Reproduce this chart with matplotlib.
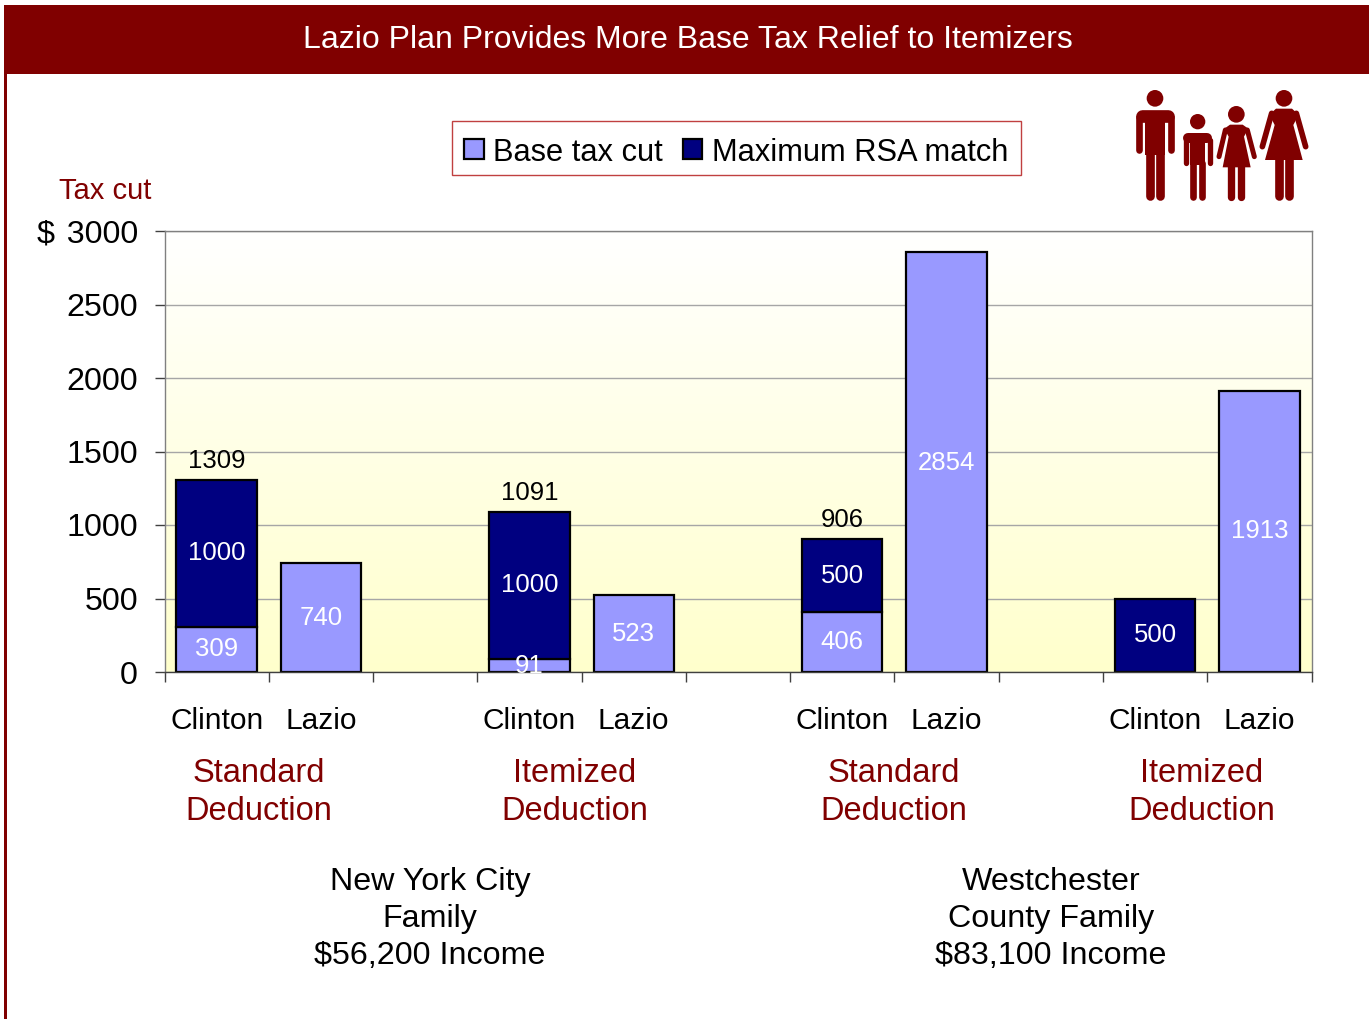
import matplotlib
matplotlib.use("Agg")
import matplotlib.pyplot as plt
import numpy as np
from matplotlib.colors import LinearSegmentedColormap
from matplotlib.patches import Circle, Polygon, Rectangle

plt.rcParams["font.family"] = ["Liberation Sans", "DejaVu Sans"]

MAROON = "#800000"
PERIWINKLE = "#9999FF"
NAVY = "#000080"

W, H = 1369, 1019

# data
categories = ["Clinton", "Lazio", "", "Clinton", "Lazio", "",
              "Clinton", "Lazio", "", "Clinton", "Lazio"]
base_cut = [309, 740, 0, 91, 523, 0, 406, 2854, 0, 0, 1913]
rsa_match = [1000, 0, 0, 1000, 0, 0, 500, 0, 0, 500, 0]
totals = [1309, None, None, 1091, None, None, 906, None, None, None, None]
yticks = [0, 500, 1000, 1500, 2000, 2500, 3000]
ytick_labels = ["0", "500", "1000", "1500", "2000", "2500", "$ \u200a3000"]
deduction_labels = ["Standard\nDeduction", "Itemized\nDeduction",
                    "Standard\nDeduction", "Itemized\nDeduction"]
family_labels = ["New York City\nFamily\n$56,200 Income",
                 "Westchester\nCounty Family\n$83,100 Income"]


def px_lw(px):
    return px * 72 / 100


def stroke(ov, x, y, width, scale=1 / 3, ox=1120, oy=80):
    ov.plot([ox + v * scale for v in x], [oy + v * scale for v in y],
            color=MAROON, lw=px_lw(width * scale), solid_capstyle="round", zorder=3)


def poly(ov, pts, scale=1 / 3, ox=1120, oy=80):
    ov.add_patch(Polygon([(ox + a * scale, oy + b * scale) for a, b in pts],
                         closed=True, fc=MAROON, ec="none", zorder=3))


def head(ov, x, y, r, scale=1 / 3, ox=1120, oy=80):
    ov.add_patch(Circle((ox + x * scale, oy + y * scale), r * scale,
                        fc=MAROON, ec="none", zorder=3))


def draw_family(ov):
    # man
    head(ov, 105, 55, 25)
    stroke(ov, [57, 57], [112, 210], 20)
    stroke(ov, [153, 153], [112, 210], 20)
    stroke(ov, [66, 144], [108, 108], 38)
    poly(ov, [(76, 100), (134, 100), (134, 225), (76, 225)])
    stroke(ov, [90, 90], [215, 348], 26)
    stroke(ov, [120, 120], [215, 348], 26)
    # boy
    head(ov, 233, 125, 23)
    stroke(ov, [197, 197], [180, 250], 16)
    stroke(ov, [269, 269], [180, 250], 16)
    stroke(ov, [204, 262], [175, 175], 30)
    poly(ov, [(211, 170), (255, 170), (255, 255), (211, 255)])
    stroke(ov, [220, 220], [250, 350], 20)
    stroke(ov, [246, 246], [250, 350], 20)
    # girl
    head(ov, 349, 103, 25)
    poly(ov, [(330, 134), (368, 134), (385, 146), (372, 170), (392, 262),
              (308, 262), (326, 170), (313, 146)])
    stroke(ov, [316, 297], [150, 230], 15)
    stroke(ov, [382, 403], [150, 230], 15)
    stroke(ov, [333, 333], [255, 350], 22)
    stroke(ov, [364, 364], [255, 350], 22)
    # woman
    head(ov, 492, 55, 25)
    poly(ov, [(468, 86), (516, 86), (536, 104), (520, 135), (548, 240),
              (435, 240), (464, 135), (448, 104)])
    stroke(ov, [455, 427], [100, 200], 17)
    stroke(ov, [529, 557], [100, 200], 17)
    stroke(ov, [478, 478], [235, 348], 26)
    stroke(ov, [507, 507], [235, 348], 26)


fig = plt.figure(figsize=(W / 100, H / 100), dpi=100, facecolor="white")

# overlay in pixel coordinates for the banner and free-standing text
ov = fig.add_axes([0, 0, 1, 1], zorder=3)
ov.set_xlim(0, W)
ov.set_ylim(H, 0)
ov.axis("off")
ov.patch.set_alpha(0)
ov.add_patch(Rectangle((4, 5), W - 4, 69, fc=MAROON, ec="none"))
ov.add_patch(Rectangle((4, 74), 2.5, H - 74, fc=MAROON, ec="none"))
ov.text(688, 40, "Lazio Plan Provides More Base Tax Relief to Itemizers",
        color="white", fontsize=23, ha="center", va="center")
ov.text(105, 191, "Tax cut", color=MAROON, fontsize=21, ha="center", va="center")
draw_family(ov)

for x, label in zip([259, 575, 894, 1202], deduction_labels):
    ov.text(x, 792.5, label, color=MAROON, fontsize=23.5, ha="center", va="center",
            linespacing=1.32)
for x, label in zip([430, 1051], family_labels):
    ov.text(x, 919, label, color="black", fontsize=23.2, ha="center", va="center",
            linespacing=1.325)

# chart
ax = fig.add_axes([164.5 / W, 1 - 672 / H, (1311.5 - 164.5) / W, (672 - 231) / H], zorder=2)
x = np.arange(len(categories))
ax.set_xlim(-0.5, 10.5)
ax.set_ylim(0, 3000)

fade = LinearSegmentedColormap.from_list("fade", ["#FFFFCC", "#FFFFFF"])
ax.imshow(np.linspace(0, 1, 256).reshape(-1, 1), cmap=fade, origin="lower",
          extent=(-0.5, 10.5, 0, 3000), aspect="auto", zorder=0)

ax.yaxis.grid(True, color="#A6A6A6", lw=1)
ax.set_axisbelow(True)
for gl in ax.get_ygridlines():
    gl.set_zorder(1)

bar_w = 0.77
has_base = [i for i in x if base_cut[i]]
has_match = [i for i in x if rsa_match[i]]
base_bars = ax.bar(has_base, [base_cut[i] for i in has_base], bar_w, color=PERIWINKLE,
                   edgecolor="black", lw=1.6, zorder=2, label="Base tax cut")
match_bars = ax.bar(has_match, [rsa_match[i] for i in has_match], bar_w,
                    bottom=[base_cut[i] for i in has_match], color=NAVY, edgecolor="black",
                    lw=1.6, zorder=2, label="Maximum RSA match")

for i in x:
    if base_cut[i]:
        yc = base_cut[i] / 2
        if i == 7:
            yc = 1420
        elif i == 3:
            yc = 40
        ax.text(i, yc, str(base_cut[i]), color="white", fontsize=18.5,
                ha="center", va="center", zorder=4)
    if rsa_match[i]:
        ax.text(i, base_cut[i] + rsa_match[i] / 2, str(rsa_match[i]), color="white",
                fontsize=18.5, ha="center", va="center", zorder=4)
    if totals[i] is not None:
        ax.annotate(str(totals[i]), (i, totals[i]), xytext=(0, 5), textcoords="offset points",
                    color="black", fontsize=18.5, ha="center", va="bottom", zorder=4)

ax.set_xticks(x, categories, fontsize=21.5)
ax.set_xticks(np.arange(-0.5, 11, 1), minor=True)
ax.tick_params(axis="x", which="major", length=0, pad=25, colors="black")
ax.tick_params(axis="x", which="minor", length=7.5, width=1, color="#404040")
ax.set_yticks(yticks, ytick_labels, fontsize=23.2)
ax.tick_params(axis="y", length=7.5, width=1, color="#404040", pad=11.5)
for s in ax.spines.values():
    s.set_color("#808080")
    s.set_linewidth(1)
ax.spines["bottom"].set_color("#404040")

leg = fig.legend(handles=[base_bars, match_bars], ncol=2, loc="center",
                 bbox_to_anchor=(736.5 / W, 1 - 148 / H), fontsize=22.2,
                 fancybox=False, framealpha=1, facecolor="white", edgecolor="#C04040",
                 handlelength=0.62, handleheight=0.62, handletextpad=0.32, columnspacing=0.65,
                 borderpad=0.4, borderaxespad=0)
leg.get_frame().set_linewidth(1)
# nudge entries down inside the frame
for t in leg.get_texts():
    t.set_y(-5)
for h in leg.get_patches():
    h.set_y(h.get_y() - 3)

fig.savefig("out.png", dpi=100)
